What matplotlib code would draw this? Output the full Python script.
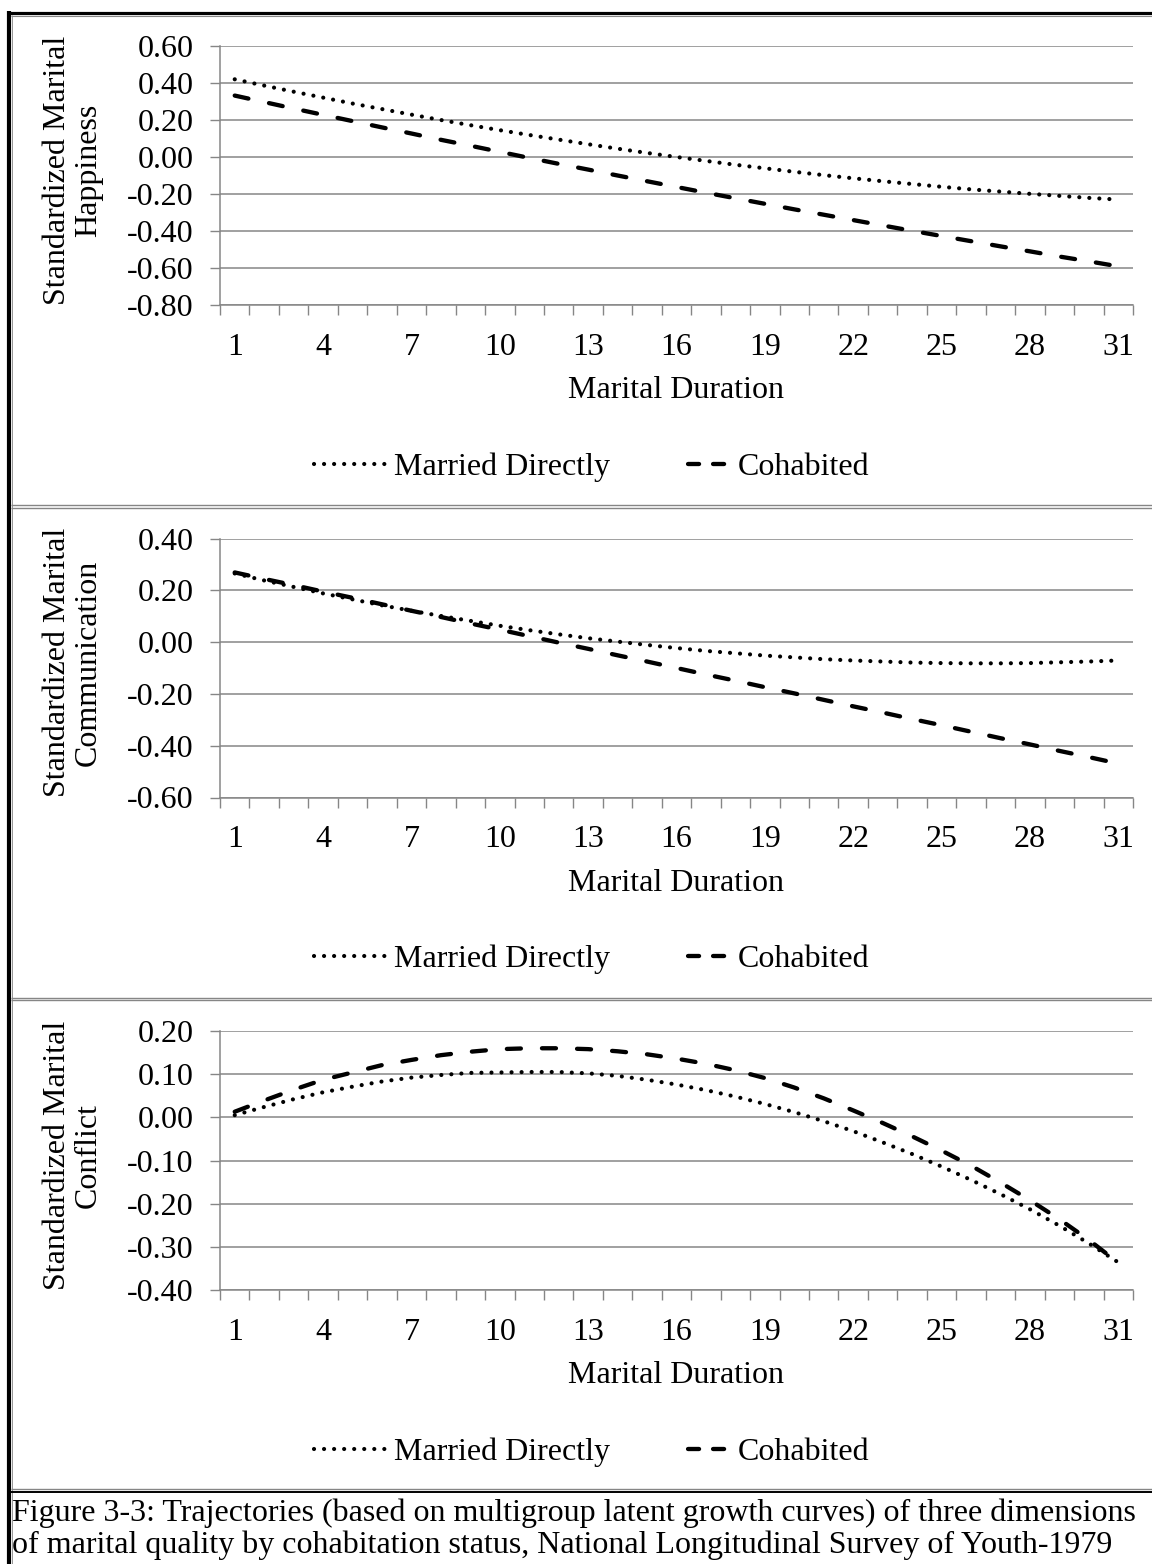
#Package imports
import matplotlib
matplotlib.use("Agg")
import matplotlib.pyplot as plt
from matplotlib.lines import Line2D

#Chart data
duration = list(range(1, 32))
durationLabels = ["1", "4", "7", "10", "13", "16", "19", "22", "25", "28", "31"]
seriesNames = ["Married Directly", "Cohabited"]

happyMarried = [0.420, 0.386, 0.353, 0.321, 0.289, 0.259, 0.229, 0.200, 0.172, 0.145, 0.119,
                0.094, 0.069, 0.045, 0.022, 0.000, -0.021, -0.042, -0.061, -0.080, -0.098,
                -0.115, -0.131, -0.146, -0.161, -0.175, -0.187, -0.199, -0.210, -0.221, -0.230]
happyCohab = [0.332, 0.297, 0.262, 0.228, 0.194, 0.160, 0.127, 0.093, 0.061, 0.028, -0.005,
              -0.037, -0.068, -0.100, -0.131, -0.162, -0.193, -0.223, -0.253, -0.283, -0.312,
              -0.341, -0.370, -0.399, -0.427, -0.455, -0.483, -0.510, -0.538, -0.564, -0.591]

commMarried = [0.265, 0.238, 0.213, 0.188, 0.165, 0.142, 0.121, 0.101, 0.082, 0.063, 0.046,
               0.030, 0.015, 0.002, -0.011, -0.023, -0.034, -0.043, -0.052, -0.059, -0.066,
               -0.071, -0.075, -0.079, -0.081, -0.082, -0.082, -0.081, -0.078, -0.075, -0.071]
commCohab = [0.269, 0.244, 0.220, 0.195, 0.171, 0.146, 0.121, 0.097, 0.072, 0.048, 0.023,
             -0.002, -0.026, -0.051, -0.075, -0.100, -0.125, -0.149, -0.174, -0.198, -0.223,
             -0.248, -0.272, -0.297, -0.321, -0.346, -0.371, -0.395, -0.420, -0.444, -0.469]

confMarried = [0.005, 0.024, 0.042, 0.058, 0.071, 0.083, 0.092, 0.098, 0.103, 0.104, 0.105,
               0.105, 0.102, 0.096, 0.087, 0.076, 0.063, 0.048, 0.031, 0.012, -0.009,
               -0.032, -0.058, -0.085, -0.114, -0.145, -0.178, -0.213, -0.251, -0.292, -0.336]
confCohab = [0.013, 0.039, 0.064, 0.087, 0.104, 0.121, 0.133, 0.144, 0.152, 0.158, 0.160,
             0.160, 0.158, 0.153, 0.146, 0.136, 0.124, 0.109, 0.091, 0.069, 0.044,
             0.016, -0.013, -0.044, -0.077, -0.112, -0.151, -0.192, -0.236, -0.284, -0.337]

happyTicks = [-0.8, -0.6, -0.4, -0.2, 0.0, 0.2, 0.4, 0.6]
happyTickLabels = ["-0.80", "-0.60", "-0.40", "-0.20", "0.00", "0.20", "0.40", "0.60"]
commTicks = [-0.6, -0.4, -0.2, 0.0, 0.2, 0.4]
commTickLabels = ["-0.60", "-0.40", "-0.20", "0.00", "0.20", "0.40"]
confTicks = [-0.4, -0.3, -0.2, -0.1, 0.0, 0.1, 0.2]
confTickLabels = ["-0.40", "-0.30", "-0.20", "-0.10", "0.00", "0.10", "0.20"]

yTitles = ["Standardized Marital\nHappiness",
           "Standardized Marital\nCommunication",
           "Standardized Marital\nConflict"]
xTitle = "Marital Duration"
caption = ("Figure 3-3: Trajectories (based on multigroup latent growth curves) of three dimensions\n"
           "of marital quality by cohabitation status, National Longitudinal Survey of Youth-1979")

#Style
plt.rcParams['font.family'] = ['Liberation Serif', 'DejaVu Serif']
FONT = 23
GRAY = "#868686"
W, H = 1152, 1564

#Line looks (lw in points, dash pattern in linewidth units)
DOT_LW = 3.0
DOT_STYLE = (0, (0.01, 2.4))
DASH_LW = 3.1
DASH_STYLE = (0, (3.25, 4.9))
#Legend key for the dashed series shows two short dashes near the text
DASH_KEY_STYLE = (46 / 4.3, (11 / 4.3, 14 / 4.3, 11 / 4.3, 40 / 4.3))

fig = plt.figure(figsize=(W / 100, H / 100), dpi=100)


def figLine(x0, y0, x1, y1, color, lw):
    #Line in pixel coords from the top left corner
    fig.add_artist(Line2D([x0 / W, x1 / W], [1 - y0 / H, 1 - y1 / H],
                          transform=fig.transFigure, color=color, linewidth=lw,
                          solid_capstyle='butt'))


def drawPanel(top, married, cohab, ticks, tickLabels, yTitle):
    bottom = top + 259
    ax = fig.add_axes([220 / W, 1 - bottom / H, 913 / W, 259 / H])
    ax.plot(duration, married, color='black', linewidth=DOT_LW,
            linestyle=DOT_STYLE, dash_capstyle='round')
    ax.plot(duration, cohab, color='black', linewidth=DASH_LW,
            linestyle=DASH_STYLE, dash_capstyle='round')

    ax.set_xlim(0.5, 31.5)
    ax.set_ylim(ticks[0], ticks[-1])

    #Gridlines at each y tick
    ax.set_yticks(ticks, tickLabels)
    ax.yaxis.grid(True, color=GRAY, linewidth=1.1)
    ax.set_axisbelow(True)
    ax.tick_params(axis='y', direction='out', length=7.2, width=1.0, color=GRAY,
                   labelsize=FONT, pad=12)

    #Category axis: tick marks between categories, labels every 3 years
    ax.set_xticks([b + 0.5 for b in range(0, 32)])
    ax.set_xticklabels([])
    ax.set_xticks([int(s) for s in durationLabels], durationLabels, minor=True)
    ax.tick_params(axis='x', which='major', direction='out', length=7.2, width=1.0, color=GRAY)
    ax.tick_params(axis='x', which='minor', length=0, labelsize=FONT, pad=20)

    for side in ['top', 'right']:
        ax.spines[side].set_visible(False)
    for side in ['left', 'bottom']:
        ax.spines[side].set_color(GRAY)
        ax.spines[side].set_linewidth(1.1)

    ax.set_xlabel(xTitle, fontsize=FONT)
    ax.xaxis.set_label_coords(0.5, -0.275)

    fig.text(73 / W, 1 - (top + 124) / H, yTitle, rotation=90, ha='center', va='center',
             fontsize=FONT, linespacing=1.1, multialignment='center')

    keyMarried = Line2D([], [], color='black', linewidth=DOT_LW, linestyle=DOT_STYLE,
                        dash_capstyle='round')
    keyCohab = Line2D([], [], color='black', linewidth=DASH_LW, linestyle=DASH_KEY_STYLE,
                      dash_capstyle='round')
    fig.legend([keyMarried, keyCohab], seriesNames, loc='center',
               bbox_to_anchor=(592 / W, 1 - (top + 421) / H), ncol=2, frameon=False,
               fontsize=FONT, handlelength=2.2, handletextpad=0.3, columnspacing=1.5)
    return ax


drawPanel(46, happyMarried, happyCohab, happyTicks, happyTickLabels, yTitles[0])
drawPanel(538.5, commMarried, commCohab, commTicks, commTickLabels, yTitles[1])
drawPanel(1031, confMarried, confCohab, confTicks, confTickLabels, yTitles[2])

#Document frame around the figure
figLine(8, 12.5, W, 12.5, 'black', 2.3)
figLine(11, 15.5, W, 15.5, GRAY, 0.8)
figLine(9, 11, 9, H, 'black', 3.0)
figLine(11.5, 15, 11.5, H, GRAY, 0.6)
for sepY in [505, 997.5]:
    figLine(11, sepY, W, sepY, GRAY, 1.0)
    figLine(11, sepY + 3, W, sepY + 3, GRAY, 1.0)
figLine(11, 1488.5, W, 1488.5, GRAY, 1.0)
figLine(11, 1491.5, W, 1491.5, 'black', 1.4)

fig.text(12 / W, 1 - 1529 / H, caption, ha='left', va='center', fontsize=FONT,
         linespacing=1.1)

fig.savefig("out.png", dpi=100)
